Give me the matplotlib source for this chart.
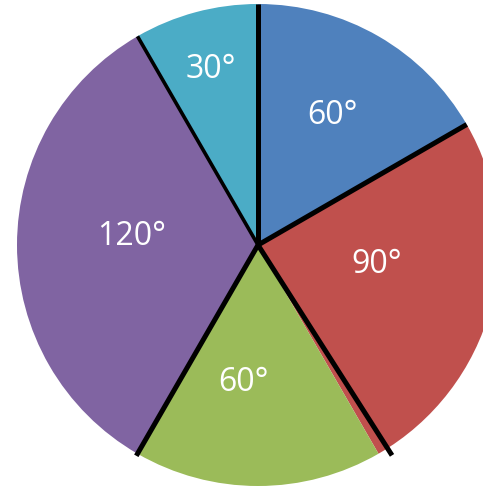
import numpy as np
import matplotlib.pyplot as plt

# slice angles in degrees, clockwise from 12 o'clock
angles = [60, 90, 60, 120, 30]
colors = ["#4F81BD", "#C0504D", "#9BBB59", "#8064A2", "#4BACC6"]
labels = [f"{a}°" for a in angles]

# label placement tweaks (radius fraction, angle nudge in degrees)
label_r = [0.62, 0.50, 0.575, 0.525, 0.755]
label_nudge = [0, 5.5, -6, -4, 0]

# separator lines at slice starts: width (pt), angle nudge, length
sep_width = [3.6, 3.6, 3.6, 3.6, 2.6]
sep_nudge = [0, 0, 2.5, 0, 0]
sep_len = [1.0, 1.0, 1.035, 1.01, 1.0]

fig = plt.figure(figsize=(4.83, 4.86), dpi=100)
ax = fig.add_axes([0, 0, 1, 1])
ax.pie(angles, colors=colors, startangle=90, counterclock=False,
       wedgeprops=dict(linewidth=0))

# boundaries and label positions
starts = 90 - np.concatenate([[0], np.cumsum(angles)[:-1]])
mids = starts - np.array(angles) / 2

for i in range(len(angles)):
    th = np.deg2rad(mids[i] + label_nudge[i])
    ax.text(label_r[i] * np.cos(th), label_r[i] * np.sin(th), labels[i],
            ha="center", va="center", color="white", fontsize=23,
            family="Open Sans")

# black lines between slices
for i in range(len(angles)):
    th = np.deg2rad(starts[i] + sep_nudge[i])
    ax.plot([0, sep_len[i] * np.cos(th)], [0, sep_len[i] * np.sin(th)],
            color="black", lw=sep_width[i], solid_capstyle="butt")

ax.set_xlim(-258 / 241, 225 / 241)
ax.set_ylim(-241 / 241, 245 / 241)
ax.set_aspect("auto")
ax.axis("off")

fig.savefig("out.png", dpi=100)
